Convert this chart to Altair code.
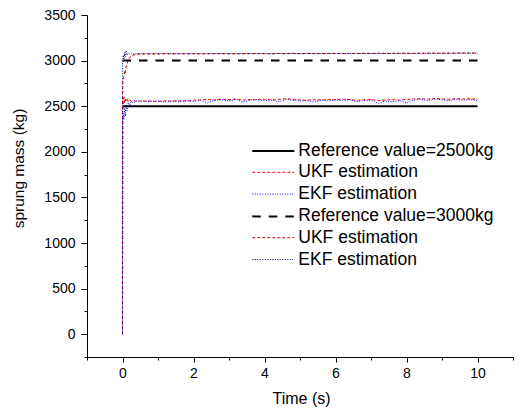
import altair as alt
import pandas as pd

# ---- data ----
time_est = [0, 0.005, 0.02, 0.04, 0.06, 0.08, 0.1, 0.13, 0.16, 0.2, 0.25, 0.3, 0.4, 0.5, 0.6,
            0.8, 1.0, 1.2, 1.4, 1.6, 1.8, 2.0, 2.2, 2.4, 2.6, 2.8, 3.0, 3.2, 3.4, 3.6, 3.8,
            4.0, 4.2, 4.4, 4.6, 4.8, 5.0, 5.2, 5.4, 5.6, 5.8, 6.0, 6.2, 6.4, 6.6, 6.8,
            7.0, 7.2, 7.4, 7.6, 7.8, 8.0, 8.2, 8.4, 8.6, 8.8, 9.0, 9.2, 9.4, 9.6, 9.8, 10.0]

ukf_2500 = [0, 2450, 2540, 2600, 2530, 2590, 2560, 2585, 2550, 2570, 2555, 2565, 2550, 2560, 2555,
            2558, 2552, 2560, 2556, 2562, 2555, 2566, 2570, 2575, 2568, 2578, 2572, 2580, 2566, 2574, 2570,
            2577, 2569, 2575, 2582, 2576, 2570, 2566, 2572, 2568, 2575, 2570, 2578, 2572, 2566, 2570,
            2574, 2562, 2568, 2573, 2567, 2575, 2579, 2583, 2578, 2585, 2580, 2576, 2583, 2578, 2582, 2575]

ekf_2500 = [0, 2300, 2420, 2350, 2480, 2390, 2520, 2450, 2540, 2510, 2555, 2535, 2560, 2545, 2555,
            2550, 2558, 2545, 2556, 2548, 2560, 2552, 2562, 2540, 2566, 2570, 2558, 2574, 2545, 2566, 2572,
            2560, 2568, 2548, 2574, 2565, 2556, 2562, 2545, 2566, 2558, 2568, 2560, 2572, 2550, 2562,
            2566, 2530, 2558, 2548, 2562, 2535, 2568, 2575, 2562, 2578, 2570, 2560, 2576, 2566, 2574, 2560]

ukf_3000 = [0, 2750, 2800, 2830, 2880, 2860, 2930, 2960, 3010, 3030, 3055, 3060, 3068, 3072, 3070,
            3074, 3071, 3075, 3072, 3076, 3073, 3075, 3072, 3076, 3074, 3077, 3073, 3076, 3074, 3078, 3075,
            3077, 3074, 3078, 3076, 3079, 3075, 3078, 3076, 3079, 3077, 3080, 3076, 3079, 3077, 3080,
            3078, 3081, 3078, 3080, 3079, 3082, 3079, 3081, 3080, 3083, 3080, 3082, 3081, 3084, 3082, 3085]

ekf_3000 = [0, 2950, 3060, 3010, 3090, 3040, 3110, 3060, 3085, 3070, 3080, 3072, 3078, 3074, 3079,
            3076, 3080, 3077, 3079, 3075, 3078, 3076, 3079, 3075, 3078, 3076, 3079, 3075, 3078, 3076, 3079,
            3077, 3075, 3079, 3076, 3078, 3076, 3079, 3077, 3075, 3078, 3076, 3079, 3077, 3080, 3077,
            3079, 3076, 3080, 3078, 3081, 3078, 3080, 3079, 3082, 3079, 3081, 3080, 3083, 3080, 3082, 3081]

ref_time = [0, 10]
ref_2500 = [2500, 2500]
ref_3000 = [3000, 3000]

series_names = ["Reference value=2500kg", "UKF estimation", "EKF estimation",
                "Reference value=3000kg", "UKF estimation ", "EKF estimation "]
series_colors = ["#000000", "#ff0000", "#0000ff", "#000000", "#cc0000", "#000080"]
series_dash = [[1, 0], [3, 2], [1, 1.5], [8.5, 8], [3, 2], [1, 1.5]]
series_width = [2, 1, 1, 2, 1, 1]

rows = []
for name, tt, vv in [
    (series_names[0], ref_time, ref_2500),
    (series_names[3], ref_time, ref_3000),
    (series_names[1], time_est, ukf_2500),
    (series_names[4], time_est, ukf_3000),
    (series_names[2], time_est, ekf_2500),
    (series_names[5], time_est, ekf_3000),
]:
    for t, v in zip(tt, vv):
        rows.append({"t": t, "v": v, "series": name})
df = pd.DataFrame(rows)

FONT = "Liberation Sans"

legend = alt.Legend(
    orient="none", legendX=176.8, legendY=126.5, title=None,
    symbolType="M-2.5,0H2.5", symbolSize=282, labelOffset=15.5,
    labelFont=FONT, labelFontSize=17.5, labelLimit=400, labelColor="#000000",
    rowPadding=3.8, padding=0, labelBaseline="middle",
)

x_ticks = [-1, 0, 1, 2, 3, 4, 5, 6, 7, 8, 9, 10, 11]
y_ticks = [-250, 0, 250, 500, 750, 1000, 1250, 1500, 1750, 2000, 2250, 2500,
           2750, 3000, 3250, 3500]

x_axis = alt.Axis(
    values=x_ticks, title="Time (s)", grid=False,
    labelExpr="datum.value % 2 === 0 ? datum.label : ''",
    tickSize={"condition": {"test": "datum.value % 2 === 0", "value": 5}, "value": 3},
    domainColor="#000000", tickColor="#000000", labelColor="#000000",
    labelFont=FONT, labelFontSize=14, labelPadding=4, labelOverlap=False, labelFlush=False,
    titleFont=FONT, titleFontSize=16, titleFontWeight="normal", titleColor="#000000",
    titleX=214, titleY=41.7, titleBaseline="middle",
)
y_axis = alt.Axis(
    values=y_ticks, title="sprung mass (kg)", grid=False, format="d",
    labelExpr="datum.value % 500 === 0 ? datum.label : ''",
    tickSize={"condition": {"test": "datum.value % 500 === 0", "value": 6}, "value": 3},
    domainColor="#000000", tickColor="#000000", labelColor="#000000",
    labelFont=FONT, labelFontSize=14, labelPadding=6, labelOverlap=False, labelFlush=False,
    titleFont=FONT, titleFontSize=15.5, titleFontWeight="normal", titleColor="#000000",
    titleX=-68.7, titleY=153, titleBaseline="middle", titleAngle=270,
)

chart = alt.Chart(df).mark_line(clip=True).encode(
    x=alt.X("t:Q", scale=alt.Scale(domain=[-1, 11], nice=False, zero=False), axis=x_axis),
    y=alt.Y("v:Q", scale=alt.Scale(domain=[-250, 3500], nice=False, zero=False), axis=y_axis),
    color=alt.Color("series:N", scale=alt.Scale(domain=series_names, range=series_colors), legend=legend),
    strokeDash=alt.StrokeDash("series:N", scale=alt.Scale(type="ordinal", domain=series_names, range=series_dash), legend=legend),
    strokeWidth=alt.StrokeWidth("series:N", scale=alt.Scale(type="ordinal", domain=series_names, range=series_width), legend=legend),
).properties(
    width=426, height=342,
    background="white",
    autosize=alt.AutoSizeParams(type="none"),
    padding={"left": 87, "top": 15, "right": 7, "bottom": 56},
).configure_view(stroke="transparent", strokeOpacity=0, strokeWidth=0)

chart.save("out.html", embed_options={"renderer": "svg", "actions": False})
